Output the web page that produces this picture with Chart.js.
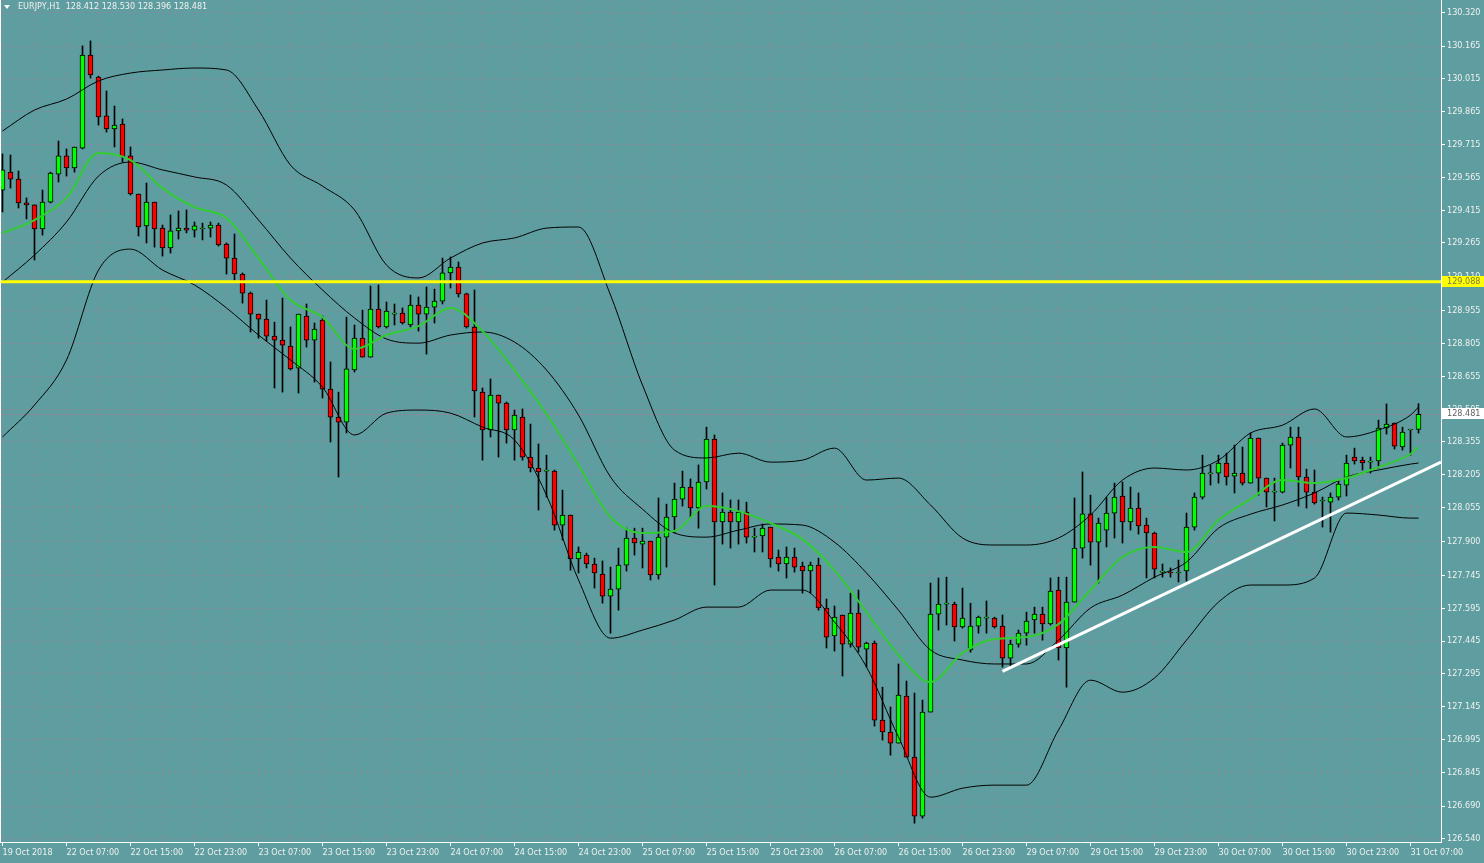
<!DOCTYPE html>
<html lang="en">
<head>
<meta charset="UTF-8" />
<title>EURJPY,H1</title>
<script src="https://cdn.jsdelivr.net/npm/chart.js"></script>
<style>
  html, body { margin: 0; padding: 0; background: #5f9ea0; overflow: hidden; }
  canvas { display: block; }
</style>
</head>
<body>
<canvas id="chart" width="1484" height="863"></canvas>
<script>
const symbol = 'EURJPY,H1';

// one label every 8 hourly bars
const tickLabels = ['19 Oct 2018', '22 Oct 07:00', '22 Oct 15:00', '22 Oct 23:00', '23 Oct 07:00', '23 Oct 15:00',
  '23 Oct 23:00', '24 Oct 07:00', '24 Oct 15:00', '24 Oct 23:00', '25 Oct 07:00', '25 Oct 15:00', '25 Oct 23:00',
  '26 Oct 07:00', '26 Oct 15:00', '26 Oct 23:00', '29 Oct 07:00', '29 Oct 15:00', '29 Oct 23:00', '30 Oct 07:00',
  '30 Oct 15:00', '30 Oct 23:00', '31 Oct 07:00'];

const priceTicks = [130.320, 130.165, 130.015, 129.865, 129.715, 129.565, 129.415, 129.265, 129.110, 128.955,
  128.805, 128.655, 128.505, 128.355, 128.205, 128.055, 127.900, 127.745, 127.595, 127.445, 127.295, 127.145,
  126.995, 126.845, 126.690, 126.540];

const opens = [129.507, 129.589, 129.557, 129.448, 129.439, 129.329, 129.452, 129.580, 129.663, 129.608,
  129.699, 130.124, 130.024, 129.846, 129.786, 129.809, 129.663, 129.489, 129.343, 129.452,
  129.333, 129.242, 129.320, 129.333, 129.324, 129.329, 129.333, 129.347, 129.260, 129.196,
  129.123, 129.036, 128.940, 128.917, 128.839, 128.821, 128.794, 128.693, 128.931, 128.821,
  128.913, 128.597, 128.469, 128.446, 128.684, 128.830, 128.743, 128.963, 128.881, 128.940,
  128.945, 128.890, 128.981, 128.940, 128.972, 128.999, 129.128, 129.155, 129.032, 128.881,
  128.583, 128.410, 128.570, 128.533, 128.410, 128.469, 128.286, 128.236, 128.222, 128.222,
  127.975, 128.021, 127.820, 127.838, 127.797, 127.751, 127.650, 127.682, 127.792, 127.916,
  127.888, 127.902, 127.747, 127.920, 128.012, 128.094, 128.149, 128.053, 128.172, 128.368,
  127.989, 128.035, 127.989, 128.035, 127.920, 127.925, 127.966, 127.829, 127.797, 127.829,
  127.788, 127.765, 127.792, 127.596, 127.468, 127.564, 127.431, 127.573, 127.408, 127.436,
  127.083, 127.029, 126.978, 127.193, 126.914, 126.644, 127.120, 127.568, 127.614, 127.614,
  127.509, 127.404, 127.513, 127.550, 127.550, 127.513, 127.367, 127.431, 127.481, 127.541,
  127.568, 127.523, 127.678, 127.413, 127.623, 127.870, 128.026, 127.897, 127.952, 128.030,
  128.108, 127.989, 128.053, 127.975, 127.939, 127.760, 127.760, 127.756, 127.765, 127.966,
  128.103, 128.209, 128.213, 128.259, 128.199, 128.213, 128.167, 128.373, 128.190, 128.126,
  128.126, 128.341, 128.378, 128.195, 128.126, 128.085, 128.080, 128.103, 128.158, 128.286,
  128.272, 128.263, 128.268, 128.419, 128.442, 128.332, 128.410, 128.412];

const highs = [129.672, 129.667, 129.594, 129.471, 129.439, 129.507, 129.589, 129.731, 129.695, 129.704,
  130.166, 130.189, 130.028, 129.960, 129.891, 129.832, 129.704, 129.489, 129.539, 129.452,
  129.347, 129.393, 129.411, 129.416, 129.361, 129.356, 129.361, 129.356, 129.265, 129.306,
  129.128, 129.041, 128.940, 129.004, 128.903, 129.013, 128.881, 128.940, 128.986, 128.899,
  128.931, 128.721, 128.583, 128.926, 128.890, 128.958, 129.068, 129.073, 128.995, 128.986,
  128.968, 129.027, 129.018, 129.064, 129.054, 129.196, 129.201, 129.178, 129.036, 129.050,
  128.602, 128.643, 128.570, 128.538, 128.501, 128.506, 128.437, 128.346, 128.295, 128.227,
  128.135, 128.021, 127.875, 127.847, 127.824, 127.811, 127.783, 127.870, 127.961, 127.961,
  127.961, 127.902, 128.099, 128.071, 128.167, 128.222, 128.186, 128.250, 128.423, 128.387,
  128.122, 128.090, 128.090, 128.080, 127.961, 127.980, 127.966, 127.861, 127.875, 127.870,
  127.806, 127.806, 127.824, 127.637, 127.605, 127.564, 127.664, 127.678, 127.440, 127.445,
  127.234, 127.143, 127.340, 127.262, 127.207, 127.175, 127.710, 127.733, 127.737, 127.623,
  127.687, 127.618, 127.559, 127.628, 127.554, 127.564, 127.449, 127.495, 127.577, 127.600,
  127.600, 127.733, 127.737, 127.737, 128.099, 128.218, 128.112, 128.007, 128.103, 128.167,
  128.172, 128.149, 128.122, 128.007, 127.943, 127.797, 127.779, 127.815, 128.030, 128.122,
  128.295, 128.250, 128.295, 128.304, 128.341, 128.332, 128.396, 128.373, 128.190, 128.190,
  128.350, 128.423, 128.423, 128.231, 128.227, 128.103, 128.122, 128.181, 128.295, 128.327,
  128.286, 128.286, 128.455, 128.529, 128.442, 128.423, 128.410, 128.530];

const lows = [129.407, 129.516, 129.425, 129.375, 129.187, 129.301, 129.448, 129.544, 129.571, 129.589,
  129.695, 130.019, 129.804, 129.772, 129.704, 129.635, 129.484, 129.297, 129.265, 129.246,
  129.205, 129.219, 129.283, 129.311, 129.292, 129.279, 129.292, 129.251, 129.123, 129.096,
  128.990, 128.858, 128.830, 128.817, 128.602, 128.583, 128.684, 128.579, 128.789, 128.629,
  128.556, 128.355, 128.195, 128.396, 128.675, 128.743, 128.743, 128.876, 128.876, 128.890,
  128.894, 128.881, 128.862, 128.757, 128.899, 128.986, 129.059, 129.018, 128.876, 128.469,
  128.272, 128.378, 128.286, 128.350, 128.272, 128.272, 128.218, 128.044, 128.103, 127.952,
  127.907, 127.769, 127.756, 127.779, 127.687, 127.618, 127.481, 127.586, 127.765, 127.838,
  127.779, 127.724, 127.728, 127.783, 127.939, 128.062, 128.007, 127.961, 128.140, 127.701,
  127.888, 127.870, 127.888, 127.893, 127.852, 127.852, 127.783, 127.765, 127.733, 127.760,
  127.664, 127.664, 127.586, 127.413, 127.399, 127.285, 127.417, 127.394, 127.326, 127.056,
  126.992, 126.923, 126.978, 126.914, 126.612, 126.635, 127.120, 127.495, 127.518, 127.445,
  127.504, 127.394, 127.481, 127.481, 127.504, 127.326, 127.330, 127.417, 127.426, 127.481,
  127.449, 127.518, 127.358, 127.234, 127.623, 127.824, 127.792, 127.710, 127.875, 127.916,
  127.893, 127.952, 127.934, 127.733, 127.733, 127.737, 127.737, 127.715, 127.719, 127.952,
  128.094, 128.158, 128.167, 128.158, 128.122, 128.158, 128.167, 128.112, 128.058, 127.994,
  128.122, 128.236, 128.062, 128.053, 128.071, 127.966, 127.943, 128.090, 128.108, 128.254,
  128.227, 128.213, 128.236, 128.391, 128.323, 128.318, 128.295, 128.396];

const closes = [129.599, 129.557, 129.448, 129.439, 129.329, 129.452, 129.585, 129.663, 129.608, 129.704,
  130.124, 130.033, 129.841, 129.786, 129.804, 129.658, 129.489, 129.338, 129.452, 129.329,
  129.242, 129.320, 129.333, 129.324, 129.343, 129.329, 129.347, 129.256, 129.196, 129.123,
  129.036, 128.940, 128.917, 128.839, 128.821, 128.798, 128.689, 128.940, 128.821, 128.871,
  128.597, 128.469, 128.446, 128.689, 128.830, 128.743, 128.963, 128.881, 128.954, 128.940,
  128.899, 128.981, 128.940, 128.972, 128.999, 129.128, 129.155, 129.032, 128.881, 128.588,
  128.410, 128.570, 128.533, 128.410, 128.478, 128.286, 128.236, 128.218, 128.222, 127.975,
  128.021, 127.820, 127.852, 127.797, 127.756, 127.650, 127.682, 127.792, 127.916, 127.893,
  127.902, 127.747, 127.920, 128.012, 128.094, 128.149, 128.053, 128.172, 128.368, 127.989,
  128.035, 127.989, 128.035, 127.920, 127.920, 127.961, 127.820, 127.797, 127.829, 127.783,
  127.765, 127.792, 127.596, 127.463, 127.554, 127.431, 127.573, 127.417, 127.436, 127.083,
  127.029, 126.978, 127.198, 126.914, 126.644, 127.120, 127.568, 127.614, 127.614, 127.509,
  127.550, 127.513, 127.554, 127.550, 127.509, 127.367, 127.431, 127.481, 127.536, 127.568,
  127.523, 127.673, 127.413, 127.623, 127.870, 128.026, 127.897, 127.984, 128.030, 128.103,
  127.989, 128.053, 127.971, 127.939, 127.774, 127.760, 127.756, 127.760, 127.966, 128.103,
  128.213, 128.209, 128.259, 128.195, 128.213, 128.167, 128.373, 128.190, 128.126, 128.126,
  128.341, 128.378, 128.195, 128.126, 128.076, 128.085, 128.103, 128.163, 128.259, 128.268,
  128.259, 128.263, 128.419, 128.437, 128.336, 128.400, 128.410, 128.481];

// indicator readings, every 4th bar plus the last one
const bandIndex = [0, 4, 8, 12, 16, 20, 24, 28, 32, 36, 40, 44, 48, 52, 56, 60, 64, 68, 72, 76, 80, 84, 88,
  92, 96, 100, 104, 108, 112, 116, 120, 124, 128, 132, 136, 140, 144, 148, 152, 156, 160, 164, 168, 172, 176, 177];

const upperBand = [129.777, 129.873, 129.923, 130.006, 130.042, 130.056, 130.065, 130.056, 129.873, 129.621,
  129.525, 129.416, 129.164, 129.105, 129.196, 129.265, 129.288, 129.333, 129.338, 129.027, 128.615, 128.318,
  128.282, 128.304, 128.263, 128.272, 128.327, 128.181, 128.190, 128.067, 127.916, 127.884, 127.884, 127.916,
  128.021, 128.181, 128.236, 128.227, 128.272, 128.396, 128.432, 128.506, 128.378, 128.410, 128.478, 128.515];

const middleBand = [129.086, 129.210, 129.361, 129.571, 129.635, 129.599, 129.567, 129.530, 129.370, 129.196,
  129.050, 128.922, 128.826, 128.807, 128.844, 128.858, 128.812, 128.684, 128.478, 128.195, 128.048, 127.939,
  127.920, 127.952, 127.980, 127.975, 127.897, 127.756, 127.586, 127.404, 127.358, 127.340, 127.340, 127.449,
  127.596, 127.655, 127.737, 127.806, 127.961, 128.025, 128.067, 128.122, 128.195, 128.227, 128.254, 128.259];

const lowerBand = [128.378, 128.524, 128.730, 129.141, 129.237, 129.141, 129.073, 128.968, 128.844, 128.730,
  128.606, 128.387, 128.487, 128.501, 128.487, 128.423, 128.364, 128.112, 127.724, 127.458, 127.495, 127.541,
  127.600, 127.600, 127.678, 127.678, 127.532, 127.326, 127.006, 126.731, 126.772, 126.786, 126.786, 127.038,
  127.266, 127.211, 127.276, 127.449, 127.623, 127.701, 127.701, 127.733, 128.030, 128.021, 128.007, 128.007];

const fastMa = [129.310, 129.370, 129.471, 129.676, 129.644, 129.516, 129.429, 129.379, 129.196, 129.004,
  128.926, 128.780, 128.844, 128.885, 128.968, 128.862, 128.684, 128.483, 128.250, 128.012, 127.939, 127.948,
  128.062, 128.039, 127.984, 127.911, 127.769, 127.577, 127.381, 127.257, 127.390, 127.454, 127.463, 127.522,
  127.678, 127.829, 127.875, 127.852, 127.998, 128.094, 128.181, 128.167, 128.190, 128.240, 128.300, 128.332];

const levelLine = 129.088;
const bidPrice = 128.481;
const trendX = [125, 179.8125];
const trendY = [127.306, 128.263];

const xMin = -0.3125, xMax = 179.8125;
const yMin = 126.526, yMax = 130.376;
const gridColor = '#868a9a';
const textColor = '#f0f0f0';
const fontFamily = '"DejaVu Sans Condensed", "Liberation Sans", sans-serif';

const wickData = opens.map((o, i) => ({ x: i, y: [lows[i], highs[i]] }));
const bodyData = opens.map((o, i) => ({ x: i, y: [o, closes[i]] }));
const bodyColors = opens.map((o, i) => closes[i] >= o ? '#00ff00' : '#ff0000');
const lineData = arr => bandIndex.map((x, k) => ({ x, y: arr[k] }));

function lineSet(data, color, width, order, smooth) {
  return { type: 'line', data, borderColor: color, borderWidth: width, pointRadius: 0,
    cubicInterpolationMode: smooth ? 'monotone' : 'default', tension: 0, order };
}

// no label overflow padding: plot area must fill the canvas up to the axes
function noPadding(s) {
  s.paddingLeft = 0; s.paddingRight = 0; s.paddingTop = 0; s.paddingBottom = 0;
}

const overlay = {
  id: 'overlay',
  afterDraw(chart) {
    const { ctx, chartArea } = chart;
    const y = chart.scales.y;
    ctx.save();
    ctx.strokeStyle = '#ffffff';
    ctx.lineWidth = 1;
    ctx.beginPath();
    ctx.moveTo(chartArea.left + 0.5, chartArea.top);
    ctx.lineTo(chartArea.left + 0.5, chartArea.bottom);
    ctx.stroke();

    ctx.font = '9px ' + fontFamily;
    ctx.textBaseline = 'middle';
    [[levelLine, '#ffff00', '#7a7a4a'], [bidPrice, '#ffffff', '#606060']].forEach(([v, bg, fg]) => {
      const py = Math.round(y.getPixelForValue(v));
      ctx.fillStyle = bg;
      ctx.fillRect(chartArea.right + 1, py - 6, 43, 11);
      ctx.fillStyle = fg;
      ctx.fillText(v.toFixed(3), chartArea.right + 6, py);
    });

    // header
    ctx.fillStyle = '#ffffff';
    ctx.beginPath();
    ctx.moveTo(4, 5);
    ctx.lineTo(10, 5);
    ctx.lineTo(7, 9);
    ctx.closePath();
    ctx.fill();
    const last = opens.length - 1;
    const ohlc = [opens[last], highs[last], lows[last], closes[last]].map(v => v.toFixed(3)).join(' ');
    ctx.fillStyle = textColor;
    ctx.fillText(symbol + '  ' + ohlc, 18, 7);
    ctx.restore();
  }
};

new Chart(document.getElementById('chart'), {
  type: 'bar',
  data: {
    datasets: [
      lineSet([{ x: trendX[0], y: trendY[0] }, { x: trendX[1], y: trendY[1] }], '#ffffff', 3, 1),
      lineSet([{ x: xMin, y: levelLine }, { x: xMax, y: levelLine }], '#ffff00', 3, 2),
      lineSet(lineData(fastMa), '#32cd32', 2, 3, true),
      lineSet(lineData(upperBand), '#000000', 1, 4, true),
      lineSet(lineData(middleBand), '#000000', 1, 5, true),
      lineSet(lineData(lowerBand), '#000000', 1, 6, true),
      { type: 'bar', data: bodyData, backgroundColor: bodyColors, borderColor: '#000000', borderWidth: 1,
        borderSkipped: false, barThickness: 5, minBarLength: 1, grouped: false, order: 7 },
      { type: 'bar', data: wickData, backgroundColor: '#000000', borderWidth: 0, barThickness: 1,
        grouped: false, order: 8 },
      lineSet([{ x: xMin, y: bidPrice }, { x: xMax, y: bidPrice }], gridColor, 1, 9)
    ]
  },
  options: {
    responsive: false,
    devicePixelRatio: 1,
    animation: false,
    events: [],
    layout: { padding: 0, autoPadding: false },
    plugins: { legend: { display: false }, tooltip: { enabled: false } },
    scales: {
      x: {
        type: 'linear', position: 'bottom', min: xMin, max: xMax, bounds: 'data', offset: false,
        afterBuildTicks: s => {
          s.ticks = [];
          for (let v = 0; v <= 176; v += 4) s.ticks.push({ value: v });
        },
        afterFit: s => { s.height = 21; noPadding(s); },
        ticks: {
          autoSkip: false, maxRotation: 0, align: 'start', padding: 1, color: textColor,
          font: { family: fontFamily, size: 9 },
          callback: v => v % 8 === 0 ? tickLabels[v / 8] : ''
        },
        grid: {
          offset: false, color: gridColor, lineWidth: 1, tickLength: 4,
          tickColor: c => (c.tick && c.tick.value % 8 === 0) ? '#ffffff' : 'rgba(0,0,0,0)'
        },
        border: { display: true, color: '#ffffff', width: 1, dash: [3, 3] }
      },
      y: {
        type: 'linear', position: 'right', min: yMin, max: yMax, bounds: 'data',
        afterBuildTicks: s => { s.ticks = priceTicks.map(v => ({ value: v })); },
        afterFit: s => { s.width = 43; noPadding(s); },
        ticks: {
          autoSkip: false, padding: 2, color: textColor,
          font: { family: fontFamily, size: 9 },
          callback: v => v.toFixed(3)
        },
        grid: { color: gridColor, lineWidth: 1, tickLength: 4, tickColor: '#ffffff' },
        border: { display: true, color: '#ffffff', width: 1, dash: [3, 3] }
      }
    }
  },
  plugins: [overlay]
});
</script>
</body>
</html>
